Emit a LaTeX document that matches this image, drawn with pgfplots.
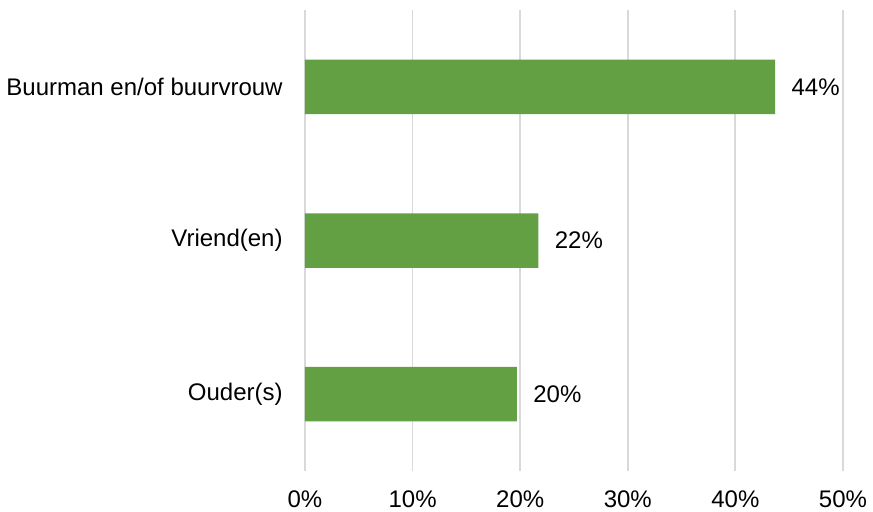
\documentclass[border=0pt]{standalone}
\usepackage{pgfplots}
\pgfplotsset{compat=1.18}
\usepackage{fontspec}
\setmainfont{Liberation Sans}
\definecolor{barg}{RGB}{99,160,67}
\definecolor{gridg}{RGB}{217,217,217}
\begin{document}
\begin{tikzpicture}
\begin{axis}[
  name=ax, at={(0,0)}, anchor=south west,
  scale only axis, width=269pt, height=230.5pt,
  xbar, bar width=27.25pt, bar shift=0pt,
  xmin=0, xmax=50, ymin=-0.5, ymax=2.5,
  xtick={0,10,20,30,40,50},
  xticklabels={0\%,10\%,20\%,30\%,40\%,50\%},
  ytick={0,1,2},
  yticklabels={Ouder(s),Vriend(en),Buurman en/of buurvrouw},
  axis line style={draw=none},
  major tick length=0pt,
  xmajorgrids, grid style={gridg, line width=0.9pt},
  xticklabel style={font=\fontsize{12}{14}\selectfont, anchor=north, inner sep=0pt, yshift=-9.5pt},
  yticklabel style={font=\fontsize{12}{14}\selectfont, anchor=east, inner sep=0pt, xshift=-11pt},
  nodes near coords={\pgfmathprintnumber[fixed,precision=0]{\pgfplotspointmeta}\%},
  every node near coord/.append style={font=\fontsize{12}{14}\selectfont, anchor=west, inner sep=0pt, xshift=8pt, text=black},
  /pgf/number format/assume math mode=true,
]
\addplot[fill=barg, draw=none] coordinates {(19.7,0) (21.7,1) (43.7,2)};
\end{axis}
\pgfresetboundingbox
\useasboundingbox (-152.5pt,-20pt) rectangle (284pt,235.5pt);
\end{tikzpicture}
\end{document}
